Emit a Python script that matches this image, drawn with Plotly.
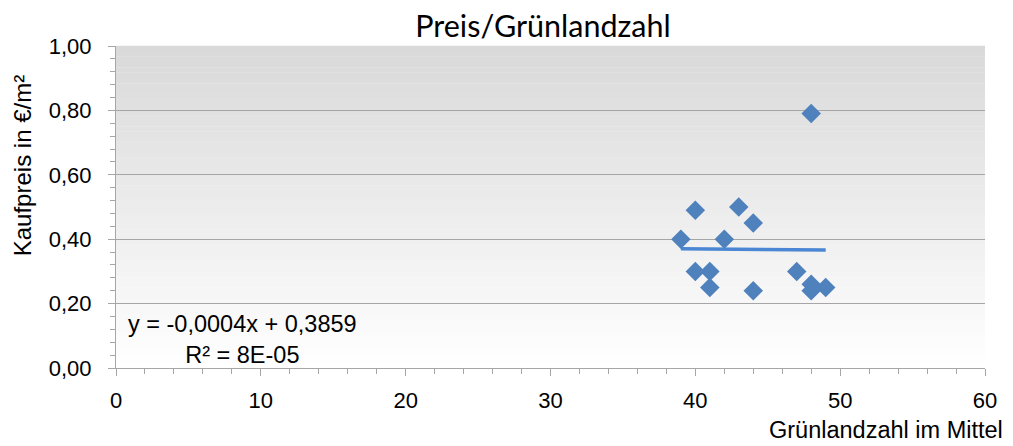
import plotly.graph_objects as go

# Data
gruenlandzahl = [39, 40, 40, 41, 41, 42, 43, 44, 44, 47, 48, 48, 48, 49]
kaufpreis = [0.40, 0.49, 0.30, 0.30, 0.25, 0.40, 0.50, 0.45, 0.24, 0.30, 0.79, 0.26, 0.24, 0.25]
trend_slope = -0.0004
trend_intercept = 0.3859
x_ticks = [0, 10, 20, 30, 40, 50, 60]
y_ticks = [0.0, 0.2, 0.4, 0.6, 0.8, 1.0]

fig = go.Figure()

# gradient background bands
n = 60
shapes = []
for i in range(n):
    tc = (i + 0.5) / n
    v = round(255 - (255 - 217) * tc)
    shapes.append(dict(type="rect", xref="x domain", yref="y domain",
                       x0=0, x1=1, y0=i / n, y1=(i + 1) / n + 0.001,
                       fillcolor=f"rgb({v},{v},{v})", line=dict(width=0), layer="below"))

tx = [min(gruenlandzahl), max(gruenlandzahl)]
ty = [trend_slope * x + trend_intercept for x in tx]
fig.add_trace(go.Scatter(x=tx, y=ty, mode="lines",
                         line=dict(color="#4A86D3", width=3.5), hoverinfo="skip"))
fig.add_trace(go.Scatter(x=gruenlandzahl, y=kaufpreis, mode="markers",
                         marker=dict(symbol="diamond", size=15, color="#4F81BD",
                                     line=dict(width=0))))

font = "Liberation Sans, Arial, sans-serif"
fig.update_layout(
    width=1013, height=446,
    margin=dict(l=116, r=28, t=46, b=78),
    paper_bgcolor="white", plot_bgcolor="rgba(0,0,0,0)",
    showlegend=False,
    separators=", ",
    shapes=shapes,
    font=dict(family=font, size=22, color="black"),
    title=dict(text="Preis/Grünlandzahl", x=0.536, xanchor="center", y=0.942,
               yanchor="middle", font=dict(size=30.5, family="Lato, Carlito, sans-serif", color="black")),
    xaxis=dict(range=[0, 60], tickvals=x_ticks, showgrid=False, zeroline=False,
               showline=True, linecolor="#A6A6A6", linewidth=1,
               ticks="outside", ticklen=7, tickcolor="#A6A6A6",
               minor=dict(dtick=2, ticks="outside", ticklen=5, tickcolor="#A6A6A6", showgrid=False),
               tickfont=dict(size=22), ticklabelstandoff=6, mirror=False),
    yaxis=dict(range=[0, 1.0], tickvals=y_ticks, tickformat=".2f",
               showgrid=True, gridcolor="#A6A6A6", gridwidth=1, zeroline=False,
               showline=True, linecolor="#A6A6A6", linewidth=1,
               ticks="outside", ticklen=7, tickcolor="#A6A6A6",
               minor=dict(dtick=0.04, ticks="outside", ticklen=5, tickcolor="#A6A6A6", showgrid=False),
               tickfont=dict(size=22), ticklabelstandoff=12),
    annotations=[
        dict(text="Kaufpreis in €/m²", xref="paper", yref="paper",
             x=-0.108, y=0.627, xanchor="center", yanchor="middle", textangle=-90,
             showarrow=False, font=dict(size=24)),
        dict(text="Grünlandzahl im Mittel", xref="paper", yref="paper",
             x=1.023, y=-0.193, xanchor="right", yanchor="middle", showarrow=False,
             font=dict(size=23.5)),
        dict(text="y = -0,0004x + 0,3859<br>R² = 8E-05", xref="paper", yref="paper",
             x=0.012, y=0.09, xanchor="left", yanchor="middle", showarrow=False,
             align="center", font=dict(size=23.5)),
    ],
)

fig.write_html("out.html", config={"displayModeBar": False},
               post_script="document.body.style.margin='0';")
